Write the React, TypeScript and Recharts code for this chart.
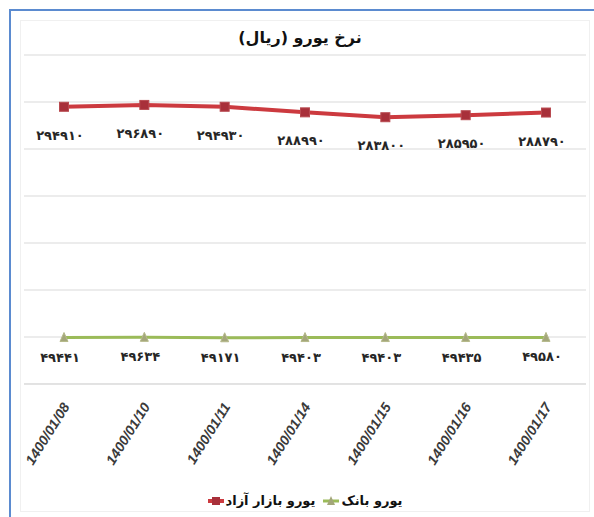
import React from "react"
import { LineChart, Line, XAxis, YAxis, CartesianGrid, Legend, LabelList } from "recharts"

const dates = ["1400/01/08", "1400/01/10", "1400/01/11", "1400/01/14", "1400/01/15", "1400/01/16", "1400/01/17"]
const freeMarket = [294910, 296890, 294930, 288990, 283800, 285950, 288790]
const bankRate = [49441, 49634, 49171, 49403, 49403, 49435, 49580]
const yTicks = [0, 50000, 100000, 150000, 200000, 250000, 300000, 350000]

const freeName = "یورو بازار آزاد"
const bankName = "یورو بانک"

const RED = "#cc3a3f"
const RED_DARK = "#a8303a"
const GREEN = "#9bbb59"
const GREEN_MARK = "#a3a67a"

const data = dates.map((d, i) => ({ date: d, free: freeMarket[i], bank: bankRate[i] }))

const faDigits = (v: number | string) => String(v).replace(/\d/g, (d) => "۰۱۲۳۴۵۶۷۸۹"[+d])

const SquareDot = (props: any) => {
  const { cx, cy } = props
  if (cx == null || cy == null) return null
  return <rect x={cx - 4.5} y={cy - 4.5} width={9} height={9} fill={RED_DARK} stroke="#b84a50" strokeWidth={1} />
}

const TriangleDot = (props: any) => {
  const { cx, cy } = props
  if (cx == null || cy == null) return null
  return <path d={`M${cx},${cy - 5} L${cx + 4},${cy + 4} L${cx - 4},${cy + 4} Z`} fill={GREEN_MARK} stroke="#b5b98a" strokeWidth={1} />
}

const makeLabel = (dy: number) => (props: any) => {
  const { x, y, value } = props
  return (
    <text x={x - 4} y={y + dy} textAnchor="middle" fontFamily="DejaVu Sans" fontWeight="bold" fontSize={13} fill="#262626">
      {faDigits(value)}
    </text>
  )
}

const DateTick = (props: any) => {
  const { x, y, payload } = props
  return (
    <g transform={`translate(${x + 2},${y + 12})`}>
      <text transform="rotate(-58)" textAnchor="end" dy={5} fontFamily="Liberation Sans" fontWeight="bold" fontStyle="italic" fontSize={14} fill="#3a3a3a">
        {payload.value}
      </text>
    </g>
  )
}

const LegendBox = () => (
  <div style={{ display: "flex", justifyContent: "center", alignItems: "center", gap: 8, fontFamily: "DejaVu Sans", fontWeight: "bold", fontSize: 13, color: "#111" }}>
    <div style={{ display: "flex", alignItems: "center", gap: 2 }}>
      <svg width={16} height={12}>
        <line x1={0} y1={6} x2={16} y2={6} stroke={RED} strokeWidth={4} />
        <rect x={4} y={2} width={8} height={8} fill={RED_DARK} />
      </svg>
      <span dir="rtl">{freeName}</span>
    </div>
    <div style={{ display: "flex", alignItems: "center", gap: 2 }}>
      <svg width={16} height={12}>
        <line x1={0} y1={6} x2={16} y2={6} stroke={GREEN} strokeWidth={3} />
        <path d="M8,1 L12,10 L4,10 Z" fill={GREEN_MARK} />
      </svg>
      <span dir="rtl">{bankName}</span>
    </div>
  </div>
)

export default function App() {
  return (
    <div style={{ position: "fixed", left: 0, top: 0, width: 594, height: 517, background: "#fff", overflow: "hidden" }}>
      <div style={{ position: "absolute", left: 9, top: 9, right: 0, bottom: 0, borderTop: "2px solid #5b8bd0", borderLeft: "2px solid #5b8bd0" }} />
      <div style={{ position: "absolute", left: 20, top: 20, width: 568, height: 490, border: "1px solid #f0f0f0" }} />
      <div
        dir="rtl"
        style={{ position: "absolute", top: 28, left: 0, width: 600, textAlign: "center", fontFamily: "DejaVu Sans", fontWeight: "bold", fontSize: 16, color: "#111" }}
      >
        نرخ یورو (ریال)
      </div>
      <div style={{ position: "absolute", left: 0, top: 0 }}>
        <LineChart width={594} height={517} data={data} margin={{ top: 55, right: 8, left: 24, bottom: 2 }}>
          <CartesianGrid vertical={false} stroke="#d9d9d9" />
          <XAxis
            dataKey="date"
            height={109}
            padding={{ left: 40, right: 40 }}
            tick={<DateTick />}
            tickLine={false}
            axisLine={{ stroke: "#d9d9d9" }}
            interval={0}
          />
          <YAxis hide domain={[0, 350000]} ticks={yTicks} />
          <Legend verticalAlign="bottom" height={22} content={<LegendBox />} />
          <Line
            type="linear"
            dataKey="free"
            name={freeName}
            stroke={RED}
            strokeWidth={4}
            dot={<SquareDot />}
            activeDot={false}
            isAnimationActive={false}
          >
            <LabelList dataKey="free" content={makeLabel(33)} />
          </Line>
          <Line
            type="linear"
            dataKey="bank"
            name={bankName}
            stroke={GREEN}
            strokeWidth={3}
            dot={<TriangleDot />}
            activeDot={false}
            isAnimationActive={false}
          >
            <LabelList dataKey="bank" content={makeLabel(24)} />
          </Line>
        </LineChart>
      </div>
    </div>
  )
}
